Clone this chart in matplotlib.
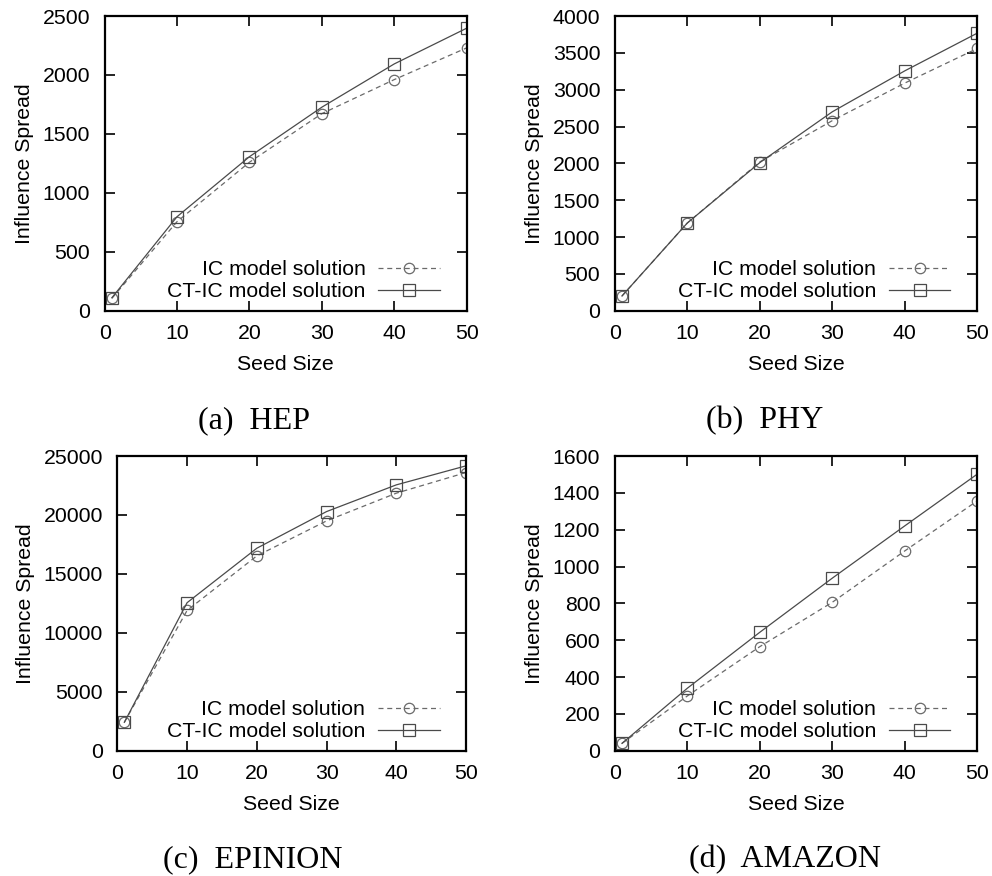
import matplotlib
matplotlib.use("Agg")
import matplotlib.pyplot as plt

plt.rcParams['font.family'] = ['Liberation Sans', 'DejaVu Sans']

seed_sizes = [1, 10, 20, 30, 40, 50]

hep_ic = [105, 756, 1260, 1672, 1961, 2230]
hep_ctic = [110, 798, 1307, 1727, 2094, 2397]

phy_ic = [200, 1190, 2020, 2580, 3090, 3560]
phy_ctic = [200, 1190, 2010, 2700, 3256, 3768]

epinion_ic = [2410, 11900, 16530, 19500, 21850, 23600]
epinion_ctic = [2410, 12560, 17180, 20290, 22555, 24170]

amazon_ic = [40, 297, 565, 806, 1085, 1357]
amazon_ctic = [40, 339, 643, 937, 1221, 1502]

captions = ["(a)  HEP", "(b)  PHY", "(c)  EPINION", "(d)  AMAZON"]
y_limits = [2500, 4000, 25000, 1600]
y_steps = [500, 500, 5000, 200]

panels = [
    (hep_ic, hep_ctic),
    (phy_ic, phy_ctic),
    (epinion_ic, epinion_ctic),
    (amazon_ic, amazon_ctic),
]

# axes rectangles in figure fraction: left, bottom, width, height
rects = [
    [0.1055, 0.6453, 0.3650, 0.3364],
    [0.6197, 0.6453, 0.3655, 0.3364],
    [0.1183, 0.1430, 0.3515, 0.3364],
    [0.6197, 0.1430, 0.3655, 0.3364],
]
caption_pos = [(254, 421), (765, 421), (253, 860), (785, 860)]

W, H = 992, 876
fig = plt.figure(figsize=(W / 100, H / 100), dpi=100)

fs = 15.3
for (ic, ctic), rect, cap, cpos, ymax, ystep in zip(
        panels, rects, captions, caption_pos, y_limits, y_steps):
    ax = fig.add_axes(rect)
    ax.plot(seed_sizes, ic, color='#6a6a6a', lw=0.9, ls=(0, (4, 3)),
            marker='o', ms=7.5, mfc='none', mec='#6a6a6a', mew=0.9,
            label='IC model solution')
    ax.plot(seed_sizes, ctic, color='#4a4a4a', lw=0.9, ls='-',
            marker='s', ms=8, mfc='none', mec='#4a4a4a', mew=0.9,
            label='CT-IC model solution')
    ax.set_xlim(0, 50)
    ax.set_ylim(0, ymax)
    ax.set_xticks(range(0, 51, 10))
    ax.set_yticks(range(0, ymax + 1, ystep))
    ax.tick_params(direction='in', length=7, width=1.2, top=True, right=True,
                   labelsize=fs)
    ax.tick_params(axis='x', pad=9.5)
    ax.tick_params(axis='y', pad=10.5)
    for s in ax.spines.values():
        s.set_linewidth(1.6)
    ax.set_xlabel('Seed Size', fontsize=fs, labelpad=9)
    ax.set_ylabel('Influence Spread', fontsize=fs, labelpad=6)
    ax.legend(loc='lower right', frameon=False, markerfirst=False,
              numpoints=1, fontsize=fs, handlelength=2.9,
              handletextpad=0.6, labelspacing=0.15,
              borderaxespad=0.05, bbox_to_anchor=(0.952, 0.0))
    fig.text(cpos[0] / W, 1 - cpos[1] / H, cap, ha='center', va='center',
             fontsize=23, family=['Liberation Serif', 'DejaVu Serif'])

fig.savefig('out.png', dpi=100)
